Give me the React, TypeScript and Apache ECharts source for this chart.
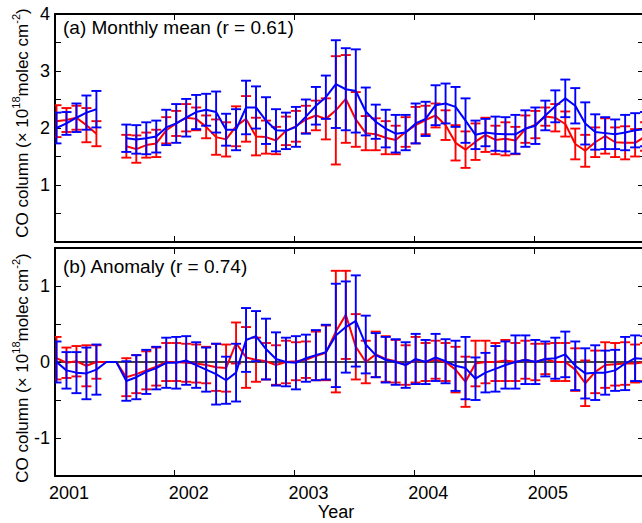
import React, { useEffect, useRef } from "react";
import * as echarts from "echarts";

// Time axis: monthly samples from Jan 2001 to Dec 2005
const START_YEAR = 2001;
const X_MIN = 2001;
const X_MAX = 2005.92;
const yearTicks = [2001, 2002, 2003, 2004, 2005];

// (a) Monthly mean CO column (x 10^18 molec cm^-2); null = no data
const meanBlue = [
  2.0, 2.08, 2.18, 2.27, 2.33, null, null, 1.82, 1.8, 1.82, 1.85, 2.01,
  2.08, 2.18, 2.28, 2.32, 2.28, 1.97, 1.97, 2.36, 2.36, 2.13, 1.96, 1.95,
  2.02, 2.2, 2.39, 2.54, 2.77, 2.68, 2.65, 2.29, 2.11, 1.99, 1.9, 1.92,
  2.08, 2.16, 2.4, 2.43, 2.37, 2.13, 1.88, 1.92, 1.9, 1.89, 1.89, 1.99,
  2.04, 2.22, 2.38, 2.52, 2.39, 2.08, 1.93, 1.91, 1.89, 1.92, 1.96, 1.98,
];
const meanBlueErr = [
  0.27, 0.2, 0.25, 0.3, 0.32, null, null, 0.24, 0.25, 0.28, 0.28, 0.31,
  0.34, 0.33, 0.3, 0.28, 0.36, 0.28, 0.36, 0.47, 0.37, 0.41, 0.37, 0.32,
  0.35, 0.3, 0.33, 0.38, 0.77, 0.72, 0.73, 0.42, 0.3, 0.33, 0.33, 0.31,
  0.35, 0.3, 0.35, 0.35, 0.35, 0.39, 0.25, 0.24, 0.3, 0.3, 0.34, 0.32,
  0.32, 0.26, 0.28, 0.33, 0.31, 0.37, 0.31, 0.28, 0.26, 0.31, 0.3, 0.3,
];
const meanRed = [
  2.12, 2.14, 2.18, 2.05, 1.9, null, null, 1.68, 1.63, 1.7, 1.73, 1.96,
  2.08, 2.18, 2.16, 2.02, 1.84, 1.8, 2.03, 2.16, 1.85, 1.84, 1.78, 1.95,
  2.03, 2.15, 2.22, 2.16, 2.31, 2.51, 2.15, 1.91, 1.89, 1.83, 1.79, 1.93,
  2.05, 2.14, 2.22, 2.05, 1.74, 1.62, 1.76, 1.88, 1.79, 1.81, 1.78, 1.98,
  2.06, 2.2, 2.18, 2.07, 1.72, 1.6, 1.75, 1.86, 1.75, 1.74, 1.74, 1.85,
];
const meanRedErr = [
  0.28, 0.21, 0.21, 0.3, 0.22, null, null, 0.2, 0.24, 0.22, 0.24, 0.23,
  0.22, 0.24, 0.2, 0.2, 0.31, 0.3, 0.35, 0.4, 0.33, 0.29, 0.24, 0.25,
  0.27, 0.24, 0.26, 0.36, 0.95, 0.77, 0.48, 0.3, 0.28, 0.29, 0.25, 0.26,
  0.32, 0.25, 0.21, 0.26, 0.31, 0.32, 0.32, 0.3, 0.25, 0.29, 0.24, 0.24,
  0.24, 0.16, 0.24, 0.22, 0.27, 0.28, 0.26, 0.31, 0.26, 0.29, 0.24, 0.25,
];

// (b) Anomaly (x 10^18 molec cm^-2); months without data sit at 0 with no bar
const anomBlue = [
  0.0, -0.11, -0.14, -0.15, -0.1, 0, 0, -0.25, -0.2, -0.13, -0.08, -0.01,
  -0.01, 0.02, -0.04, -0.1, -0.16, -0.24, -0.14, 0.29, 0.34, 0.17, 0.04, 0.0,
  -0.01, 0.05, 0.09, 0.13, 0.35, 0.46, 0.54, 0.23, 0.09, 0.03, 0.0, -0.04,
  0.04, 0.0, 0.06, 0.01, -0.05, -0.08, -0.22, -0.14, -0.09, -0.04, 0.0, 0.03,
  0.0, 0.04, 0.05, 0.1, -0.05, -0.15, -0.14, -0.14, -0.11, -0.02, 0.05, 0.04,
];
const anomBlueErr = [
  0.27, 0.24, 0.27, 0.34, 0.33, null, null, 0.26, 0.29, 0.29, 0.28, 0.33,
  0.34, 0.32, 0.3, 0.29, 0.4, 0.31, 0.38, 0.42, 0.33, 0.4, 0.35, 0.32,
  0.35, 0.31, 0.33, 0.36, 0.68, 0.6, 0.6, 0.38, 0.29, 0.3, 0.3, 0.3,
  0.33, 0.29, 0.31, 0.29, 0.33, 0.41, 0.28, 0.26, 0.3, 0.31, 0.35, 0.32,
  0.29, 0.23, 0.27, 0.3, 0.32, 0.33, 0.36, 0.29, 0.27, 0.35, 0.3, 0.3,
];
const anomRed = [
  0.05, -0.01, 0.01, -0.05, 0.0, 0, 0, -0.2, -0.16, -0.11, -0.06, 0.0,
  0.0, -0.01, -0.02, -0.04, -0.07, -0.08, 0.25, 0.06, 0.03, 0.01, -0.04, 0.0,
  0.01, 0.03, 0.08, 0.12, 0.4, 0.62, 0.2, 0.0, 0.1, 0.04, 0.01, -0.04,
  0.03, 0.0, 0.03, 0.0, -0.1, -0.26, -0.02, 0.0, 0.0, 0.02, 0.0, 0.03,
  0.0, 0.04, 0.0, 0.0, -0.1, -0.28, -0.13, -0.04, -0.03, -0.02, -0.02, 0.0,
];
const anomRedErr = [
  0.28, 0.2, 0.2, 0.27, 0.22, null, null, 0.25, 0.25, 0.25, 0.25, 0.25,
  0.25, 0.25, 0.25, 0.24, 0.31, 0.31, 0.27, 0.4, 0.29, 0.24, 0.26, 0.28,
  0.25, 0.24, 0.32, 0.36, 0.8, 0.58, 0.43, 0.28, 0.3, 0.3, 0.28, 0.26,
  0.3, 0.25, 0.25, 0.25, 0.3, 0.33, 0.3, 0.28, 0.25, 0.27, 0.25, 0.25,
  0.24, 0.2, 0.25, 0.25, 0.28, 0.3, 0.28, 0.3, 0.28, 0.28, 0.25, 0.25,
];

const RED = "#ff0000";
const BLUE = "#0000ff";
const FONT = "Liberation Sans, Arial, Helvetica, sans-serif";

const monthX = (i: number) => START_YEAR + (i + 0.15) / 12;

const lineData = (vals: (number | null)[]) =>
  vals.map((v, i) => [monthX(i), v == null ? null : v]);

const barData = (vals: (number | null)[], errs: (number | null)[]) =>
  vals
    .map((v, i) => {
      const e = errs[i];
      if (v == null || e == null) return null;
      return [monthX(i), v - e, v + e];
    })
    .filter((d) => d !== null);

const errorBarRenderer = (color: string) => (_params: any, api: any) => {
  const x = api.value(0);
  const top = api.coord([x, api.value(2)]);
  const bot = api.coord([x, api.value(1)]);
  const hw = 5;
  const style = { stroke: color, lineWidth: 1.9, fill: "none" };
  return {
    type: "group",
    children: [
      { type: "line", shape: { x1: top[0], y1: top[1], x2: bot[0], y2: bot[1] }, style },
      { type: "line", shape: { x1: top[0] - hw, y1: top[1], x2: top[0] + hw, y2: top[1] }, style },
      { type: "line", shape: { x1: bot[0] - hw, y1: bot[1], x2: bot[0] + hw, y2: bot[1] }, style },
    ],
  };
};

const frameLine = { show: true, onZero: false, lineStyle: { color: "#000", width: 2 } };
const inTick = { show: true, inside: true, length: 6, lineStyle: { color: "#000", width: 1 } };
const noSplit = { show: false };

const isInt = (v: number) => Math.abs(v - Math.round(v)) < 1e-9;

function buildOption() {
  const xCommon = {
    type: "value",
    min: X_MIN,
    max: X_MAX,
    interval: 1,
    axisLine: frameLine,
    axisTick: inTick,
    splitLine: noSplit,
  };
  const xAxes = [
    { ...xCommon, gridIndex: 0, position: "bottom", axisLabel: { show: false } },
    { ...xCommon, gridIndex: 0, position: "top", axisLabel: { show: false } },
    {
      ...xCommon,
      gridIndex: 1,
      position: "bottom",
      axisLabel: {
        show: true,
        color: "#000",
        fontFamily: FONT,
        fontSize: 18,
        margin: 8,
        padding: [0, 0, 0, 28],
        formatter: (v: number) =>
          yearTicks.some((t) => Math.abs(t - v) < 1e-9) ? String(Math.round(v)) : "",
      },
    },
    { ...xCommon, gridIndex: 1, position: "top", axisLabel: { show: false } },
  ];

  const yLabel = (hideZero: boolean) => ({
    show: true,
    color: "#000",
    fontFamily: FONT,
    fontSize: 18,
    margin: 5,
    formatter: (v: number) => {
      if (!isInt(v)) return "";
      if (hideZero && Math.round(v) === 0) return "";
      return String(Math.round(v));
    },
  });
  const yAxes = [
    { type: "value", gridIndex: 0, position: "left", min: 0, max: 4, interval: 0.5, axisLine: frameLine, axisTick: inTick, splitLine: noSplit, axisLabel: yLabel(true) },
    { type: "value", gridIndex: 0, position: "right", min: 0, max: 4, interval: 0.5, axisLine: frameLine, axisTick: inTick, splitLine: noSplit, axisLabel: { show: false } },
    { type: "value", gridIndex: 1, position: "left", min: -1.5, max: 1.5, interval: 0.5, axisLine: frameLine, axisTick: inTick, splitLine: noSplit, axisLabel: yLabel(false) },
    { type: "value", gridIndex: 1, position: "right", min: -1.5, max: 1.5, interval: 0.5, axisLine: frameLine, axisTick: inTick, splitLine: noSplit, axisLabel: { show: false } },
  ];

  const line = (name: string, data: any[], color: string, xi: number, yi: number, z: number) => ({
    name,
    type: "line",
    xAxisIndex: xi,
    yAxisIndex: yi,
    data,
    showSymbol: false,
    symbol: "none",
    connectNulls: false,
    lineStyle: { color, width: 2 },
    itemStyle: { color },
    z,
  });
  const bars = (name: string, data: any[], color: string, xi: number, yi: number, z: number) => ({
    name,
    type: "custom",
    xAxisIndex: xi,
    yAxisIndex: yi,
    data,
    encode: { x: 0, y: [1, 2] },
    renderItem: errorBarRenderer(color),
    clip: true,
    z,
  });

  const ylabelText = "{n|CO column (× 10}{sup|18}{n|molec cm}{sup|-2}{n|)}";
  const ylabelRich = {
    n: { fontSize: 17, fontFamily: FONT, lineHeight: 24, fill: "#000", color: "#000" },
    sup: { fontSize: 11, fontFamily: FONT, verticalAlign: "top", lineHeight: 12, fill: "#000", color: "#000" },
  };

  return {
    animation: false,
    backgroundColor: "#fff",
    grid: [
      { left: 55, top: 14, width: 589, height: 228, containLabel: false },
      { left: 55, top: 248, width: 589, height: 228, containLabel: false },
    ],
    xAxis: xAxes,
    yAxis: yAxes,
    series: [
      {
        name: "zero",
        type: "line",
        xAxisIndex: 2,
        yAxisIndex: 2,
        data: [[X_MIN, 0], [X_MAX, 0]],
        showSymbol: false,
        symbol: "none",
        lineStyle: { color: "#000", width: 1.5 },
        z: 1,
        silent: true,
      },
      bars("redMeanErr", barData(meanRed, meanRedErr), RED, 0, 0, 2),
      line("redMean", lineData(meanRed), RED, 0, 0, 3),
      bars("blueMeanErr", barData(meanBlue, meanBlueErr), BLUE, 0, 0, 4),
      line("blueMean", lineData(meanBlue), BLUE, 0, 0, 5),
      bars("redAnomErr", barData(anomRed, anomRedErr), RED, 2, 2, 2),
      line("redAnom", lineData(anomRed), RED, 2, 2, 3),
      bars("blueAnomErr", barData(anomBlue, anomBlueErr), BLUE, 2, 2, 4),
      line("blueAnom", lineData(anomBlue), BLUE, 2, 2, 5),
    ],
    graphic: [
      {
        type: "text",
        x: 63,
        y: 27,
        style: { text: "(a) Monthly mean (r = 0.61)", fill: "#000", font: `19px ${FONT}`, verticalAlign: "middle", align: "left" },
        z: 10,
      },
      {
        type: "text",
        x: 63,
        y: 266,
        style: { text: "(b) Anomaly (r = 0.74)", fill: "#000", font: `19px ${FONT}`, verticalAlign: "middle", align: "left" },
        z: 10,
      },
      {
        type: "text",
        x: 22,
        y: 123,
        rotation: Math.PI / 2,
        style: { text: ylabelText, rich: ylabelRich, fill: "#000", font: `17px ${FONT}`, align: "center", verticalAlign: "middle" },
        z: 10,
      },
      {
        type: "text",
        x: 22,
        y: 368,
        rotation: Math.PI / 2,
        style: { text: ylabelText, rich: ylabelRich, fill: "#000", font: `17px ${FONT}`, align: "center", verticalAlign: "middle" },
        z: 10,
      },
      {
        type: "text",
        x: 336,
        y: 512,
        style: { text: "Year", fill: "#000", font: `18px ${FONT}`, align: "center", verticalAlign: "middle" },
        z: 10,
      },
    ],
  };
}

export default function App() {
  const ref = useRef<HTMLDivElement | null>(null);
  useEffect(() => {
    if (!ref.current) return;
    const chart = echarts.init(ref.current, undefined, { renderer: "svg" });
    chart.setOption(buildOption() as any);
    return () => chart.dispose();
  }, []);
  return (
    <div
      style={{
        position: "fixed",
        left: 0,
        top: 0,
        width: 642,
        height: 523,
        overflow: "hidden",
        background: "#fff",
      }}
    >
      <div ref={ref} style={{ width: 652, height: 523 }} />
    </div>
  );
}
